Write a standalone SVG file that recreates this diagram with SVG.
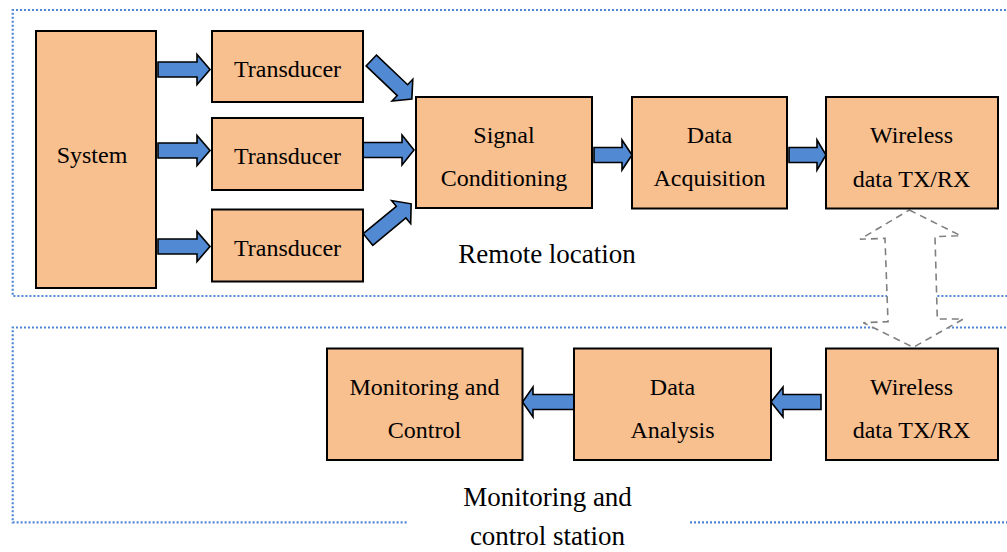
<svg xmlns="http://www.w3.org/2000/svg" width="1007" height="552" viewBox="0 0 1007 552">
<style>
.box{fill:#F8BF8F;stroke:#000;stroke-width:2}
.t{font-family:"Liberation Serif","Times New Roman",serif;font-size:24px;fill:#000;text-anchor:middle}
.lbl{font-family:"Liberation Serif","Times New Roman",serif;font-size:27px;fill:#000;text-anchor:middle}
.arr{fill:#5289D3;stroke:#000;stroke-width:1.6;stroke-linejoin:miter}
.dot{fill:none;stroke:#4F86D6;stroke-width:2.2;stroke-dasharray:2 2}
.dash{fill:#fff;stroke:#808080;stroke-width:1.6;stroke-dasharray:7 5}
</style>
<defs>
<path id="darr" d="M0,-7.5 L43,-7.5 L43,-15 L56,0 L43,15 L43,7.5 L0,7.5 Z"/>
</defs>
<rect width="1007" height="552" fill="#fff"/>
<g id="regions">
<path class="dot" d="M1010,10 H12.7 V296 H1010"/>
<path class="dot" d="M1010,327.5 H12.7 V522.3 H407 M690,522.3 H1010"/>
</g>
<g id="connectors">
<polygon class="arr" points="158,62 197,62 197,54.5 210,69.5 197,84.5 197,77 158,77"/>
<polygon class="arr" points="158,143 197,143 197,135.5 210,150.5 197,165.5 197,158 158,158"/>
<polygon class="arr" points="158,239 197,239 197,231.5 210,246.5 197,261.5 197,254 158,254"/>
<polygon class="arr" points="363,142.5 402,142.5 402,135 414,150 402,165 402,157.5 363,157.5"/>
<use href="#darr" class="arr" transform="translate(371.3,60.5) rotate(43.6)"/>
<use href="#darr" class="arr" transform="translate(368,239.5) rotate(-39.6)"/>
<polygon class="arr" points="594,147.5 622,147.5 622,140 632,155 622,170 622,162.5 594,162.5"/>
<polygon class="arr" points="789,147.5 817,147.5 817,140 826,155 817,170 817,162.5 789,162.5"/>
<polygon class="arr" points="821,394.5 783,394.5 783,387 771,402 783,417 783,409.5 821,409.5"/>
<polygon class="arr" points="574,394.5 533,394.5 533,387 522.5,402 533,417 533,409.5 574,409.5"/>
<path id="link-wireless" class="dash" d="M909.3,210 L960.7,235.7 L935,236.7 L937.3,319 L963.3,319 L913.3,347.3 L863.3,322.7 L888,321.7 L885,238.3 L860,239.3 Z"/>
</g>
<g id="system"><rect class="box" x="36" y="31" width="120" height="257"/><text class="t" x="92" y="163">System</text></g>
<g id="transducer1"><rect class="box" x="212" y="31" width="151" height="71"/><text class="t" x="287.5" y="77">Transducer</text></g>
<g id="transducer2"><rect class="box" x="212" y="118" width="151" height="72"/><text class="t" x="287.5" y="164">Transducer</text></g>
<g id="transducer3"><rect class="box" x="212" y="209.5" width="151" height="72"/><text class="t" x="287.5" y="256">Transducer</text></g>
<g id="signal-conditioning"><rect class="box" x="416" y="97" width="176" height="111"/><text class="t" x="504" y="143">Signal</text><text class="t" x="504" y="186">Conditioning</text></g>
<g id="data-acquisition"><rect class="box" x="632" y="97" width="155" height="111.5"/><text class="t" x="709.5" y="143">Data</text><text class="t" x="709.5" y="186">Acquisition</text></g>
<g id="wireless-remote"><rect class="box" x="826" y="97" width="172" height="111.5"/><text class="t" x="911.5" y="143">Wireless</text><text class="t" x="911.5" y="186.5">data TX/RX</text></g>
<g id="monitoring-control"><rect class="box" x="327" y="348.5" width="195.5" height="111.5"/><text class="t" x="424.5" y="395">Monitoring and</text><text class="t" x="424.5" y="437.5">Control</text></g>
<g id="data-analysis"><rect class="box" x="574" y="348.5" width="197" height="111.5"/><text class="t" x="672.5" y="395">Data</text><text class="t" x="672.5" y="437.5">Analysis</text></g>
<g id="wireless-station"><rect class="box" x="826" y="348.5" width="172" height="111.5"/><text class="t" x="911.5" y="395">Wireless</text><text class="t" x="911.5" y="437.5">data TX/RX</text></g>
<g id="labels">
<text class="lbl" x="547" y="263">Remote location</text>
<text class="lbl" x="547.5" y="506">Monitoring and</text>
<text class="lbl" x="547.5" y="545">control station</text>
</g>
</svg>
